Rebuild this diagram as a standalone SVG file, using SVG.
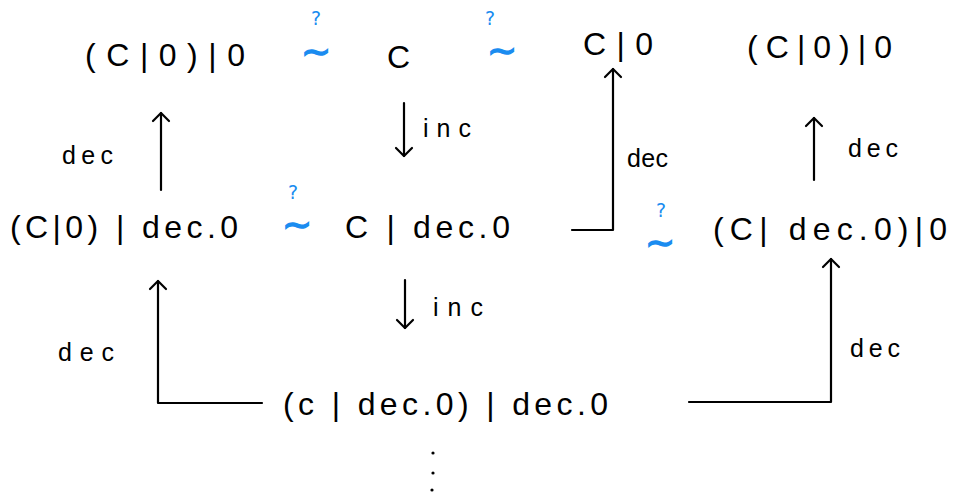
<svg xmlns="http://www.w3.org/2000/svg" width="954" height="495" viewBox="0 0 954 495">
<style>
.t{font-family:"Liberation Sans","DejaVu Sans",sans-serif;font-size:32px;fill:#000}
.l{font-family:"Liberation Sans","DejaVu Sans",sans-serif;font-size:25px;fill:#000}
.e{font-family:"DejaVu Sans",sans-serif;fill:#1a8cf0}
.q{font-size:19px}
.s{font-size:36px;stroke:#1a8cf0;stroke-width:1.4}
.c{fill:none;stroke:#000;stroke-width:2.2;stroke-linecap:round;stroke-linejoin:round}
</style>
<defs>
<marker id="a" viewBox="-12 -12 24 24" refX="0" refY="0" markerWidth="24" markerHeight="24" markerUnits="userSpaceOnUse" orient="auto">
<path d="M-8 -8 L0 0 L-8 8" fill="none" stroke="#000" stroke-width="2.2" stroke-linecap="round" stroke-linejoin="round"/>
</marker>
</defs>
<rect width="954" height="495" fill="#fff"/>
<g id="n1"><text class="t" x="85" y="66" textLength="160" lengthAdjust="spacing">(C|0)|0</text></g>
<g id="eq1"><text class="e q" x="311" y="25">?</text><text class="e s" x="301" y="64">∼</text></g>
<g id="n2"><text class="t" x="387" y="68">C</text></g>
<g id="eq2"><text class="e q" x="485" y="25">?</text><text class="e s" x="487" y="63">∼</text></g>
<g id="n3"><text class="t" x="583" y="55" textLength="70" lengthAdjust="spacing">C|0</text></g>
<g id="n4"><text class="t" x="747" y="58" textLength="145" lengthAdjust="spacing">(C|0)|0</text></g>
<g id="n5"><text class="t" x="10" y="238" textLength="228" lengthAdjust="spacing">(C|0) | dec.0</text></g>
<g id="eq3"><text class="e q" x="288" y="199">?</text><text class="e s" x="282" y="237">∼</text></g>
<g id="n6"><text class="t" x="345" y="238" textLength="165" lengthAdjust="spacing">C | dec.0</text></g>
<g id="eq4"><text class="e q" x="656" y="217">?</text><text class="e s" x="645" y="255">∼</text></g>
<g id="n7"><text class="t" x="713" y="240" textLength="234" lengthAdjust="spacing">(C| dec.0)|0</text></g>
<g id="n8"><text class="t" x="283" y="415" textLength="325" lengthAdjust="spacing">(c | dec.0) | dec.0</text></g>
<g id="dots" fill="#000"><circle cx="433" cy="453" r="1.6"/><circle cx="433" cy="473" r="1.6"/><circle cx="432" cy="490" r="1.6"/></g>
<g id="connectors">
<path class="c" d="M161 190 L161 113" marker-end="url(#a)"/>
<text class="l" x="62" y="164" textLength="51" lengthAdjust="spacing">dec</text>
<path class="c" d="M404 103 L404 156" marker-end="url(#a)"/>
<text class="l" x="423" y="137" textLength="48" lengthAdjust="spacing">inc</text>
<path class="c" d="M572 230 L613 230 L613 69" marker-end="url(#a)"/>
<text class="l" x="627" y="167" textLength="41" lengthAdjust="spacing">dec</text>
<path class="c" d="M814 180 L814 118" marker-end="url(#a)"/>
<text class="l" x="848" y="157" textLength="50" lengthAdjust="spacing">dec</text>
<path class="c" d="M405 280 L405 328" marker-end="url(#a)"/>
<text class="l" x="433" y="316" textLength="50" lengthAdjust="spacing">inc</text>
<path class="c" d="M262 403 L158 403 L158 281" marker-end="url(#a)"/>
<text class="l" x="58" y="361" textLength="56" lengthAdjust="spacing">dec</text>
<path class="c" d="M689 402 L831 402 L831 259" marker-end="url(#a)"/>
<text class="l" x="850" y="357" textLength="50" lengthAdjust="spacing">dec</text>
</g>
</svg>
